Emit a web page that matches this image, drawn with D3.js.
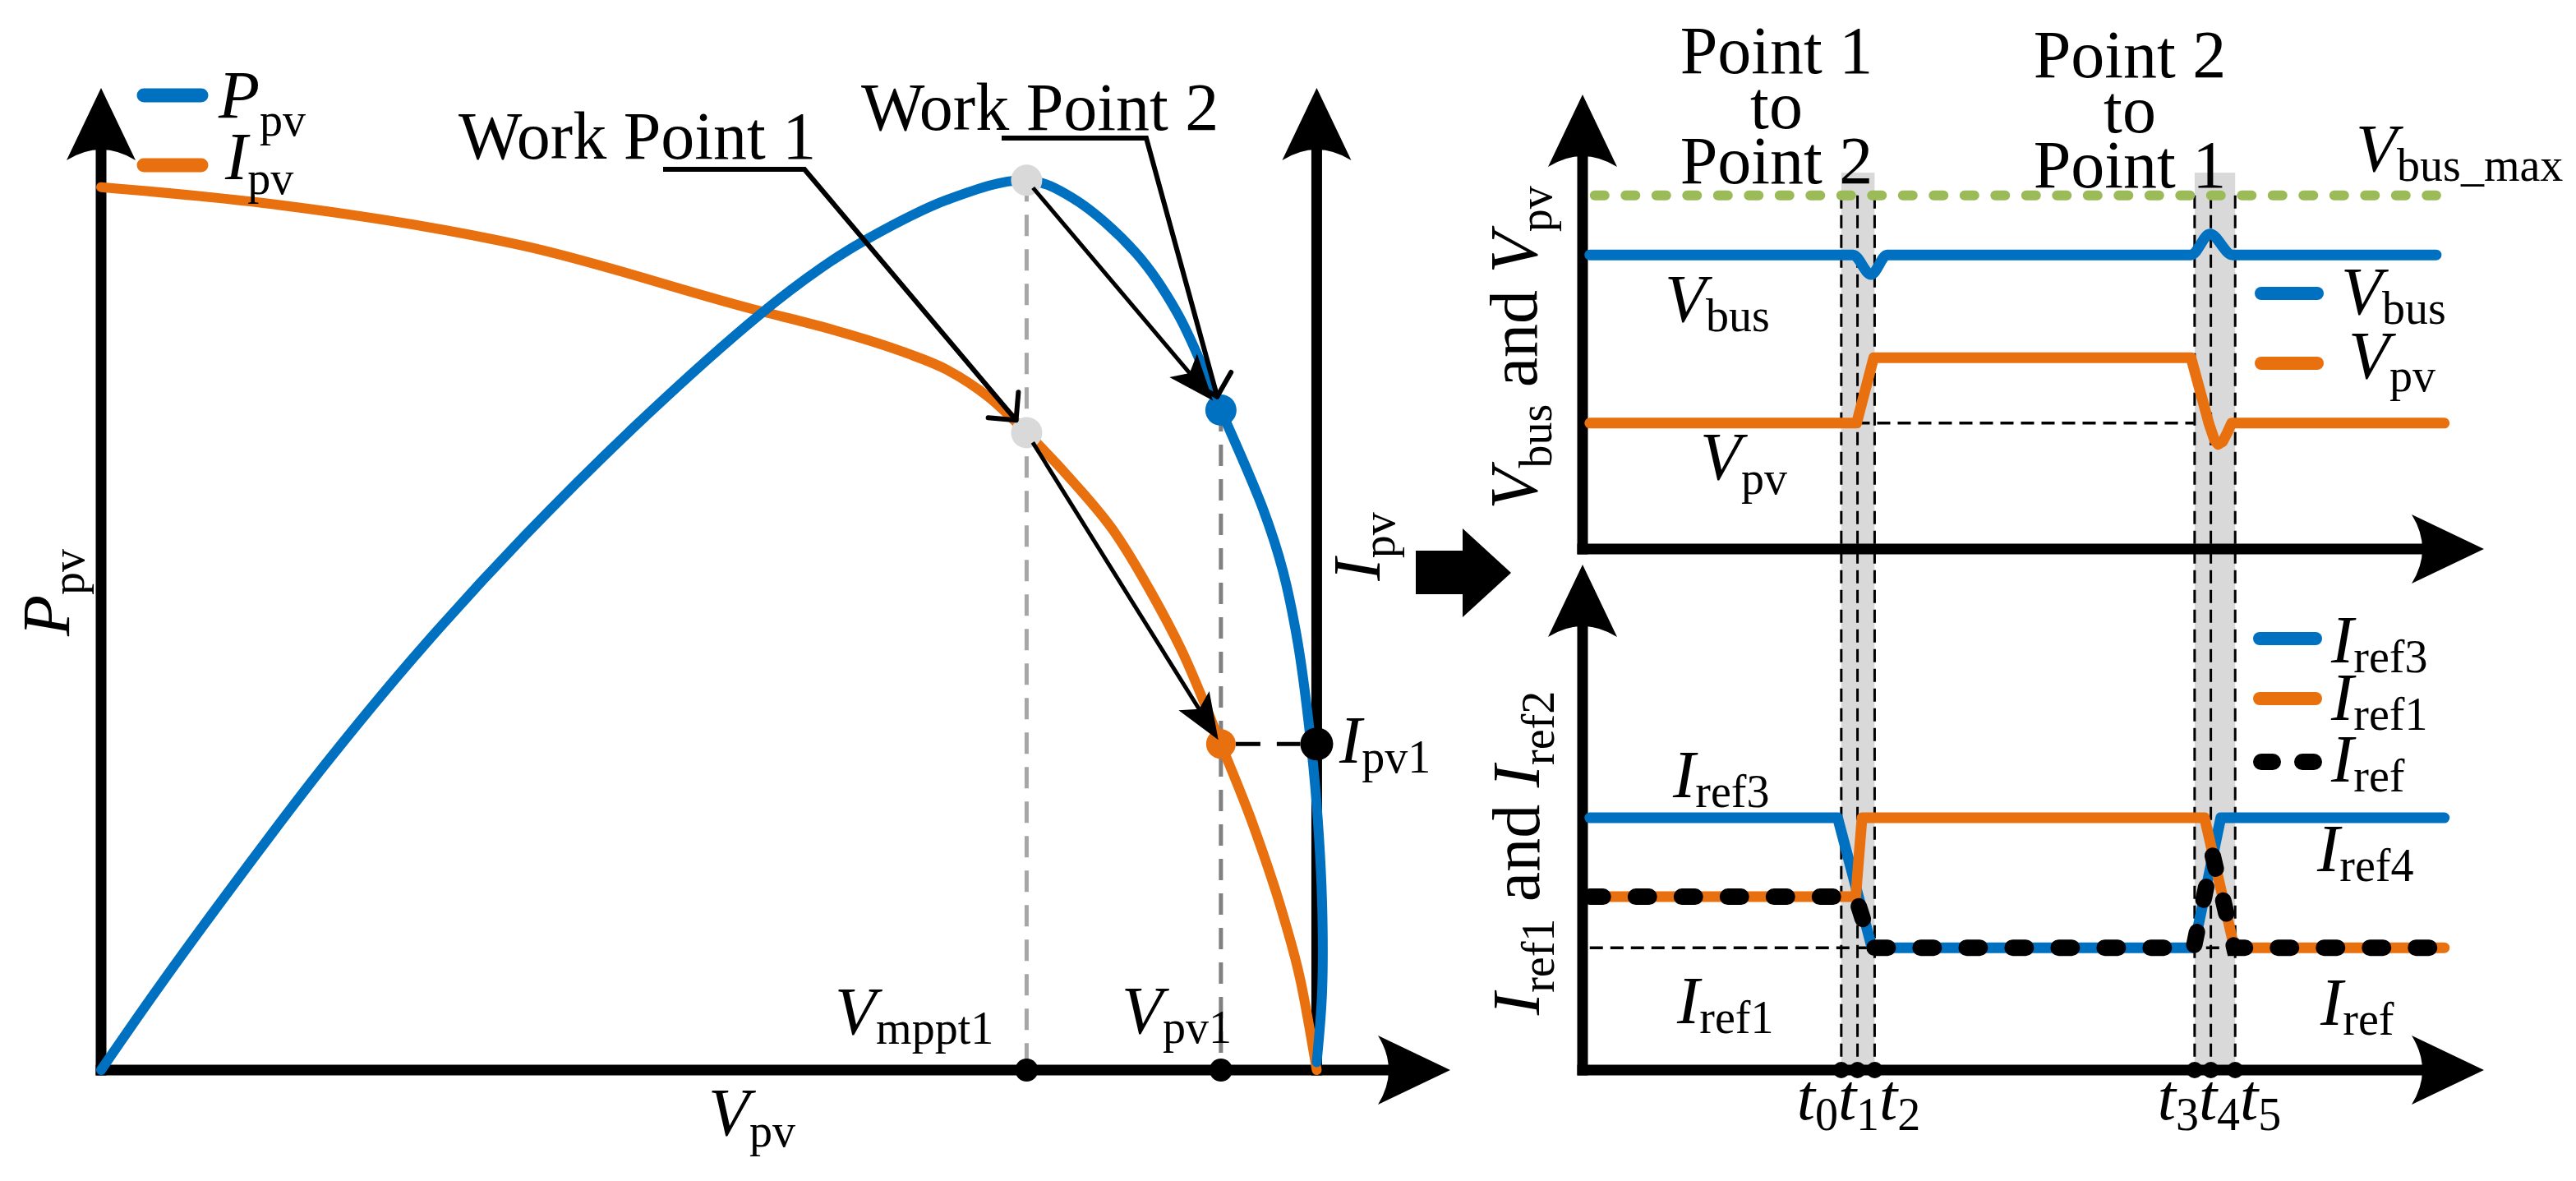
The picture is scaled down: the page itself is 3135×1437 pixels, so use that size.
<!DOCTYPE html>
<html>
<head>
<meta charset="utf-8">
<script src="https://cdn.jsdelivr.net/npm/d3@7"></script>
<style>body { margin: 0; background: #fff; }</style>
</head>
<body>
<div id="chart"></div>
<script>
// ---- data (left: V in % of axis, P / I in % of axis height) ----
const pvPowerCurve = [[0, 0], [4.1, 8.1], [10.0, 19.2], [16.6, 31.1], [23.6, 42.7], [31.4, 54.4],
  [40.3, 66.5], [48.8, 76.9], [53.4, 81.7], [56.5, 84.4], [62.7, 88.6], [68.6, 90.6], [72.0, 88.8],
  [76.7, 83.2], [79.8, 77.0], [83.0, 67.2], [86.1, 57.2], [87.6, 50.8], [88.7, 43.5], [89.5, 35.4], [90.1, 27.0],
  [90.5, 17.0], [90.5, 8.0], [90.1, 0.8]];
const pvCurrentCurve = [[0, 89.9], [11.9, 88.3], [31.4, 83.9], [48.8, 77.3], [53.4, 75.7], [59.5, 73.1],
  [62.7, 71.3], [65.8, 68.5], [68.6, 64.9], [72.1, 59.8], [75.2, 54.6], [77.8, 48.7], [80.2, 42.4],
  [83.0, 33.2], [85.4, 24.9], [87.6, 15.8], [88.9, 9.1], [90.1, 0]];
const vMppt1 = 68.6, vPv1 = 83.0, vOc = 90.1;
const pMppt1 = 90.6, iMppt1 = 64.9, pPv1 = 67.2, iPv1 = 33.2;

// ---- data (right: time in % of axis, values in % of axis height) ----
const tMarks = [28.7, 30.5, 32.4, 67.9, 69.7, 72.4];
const tNames = ['0', '1', '2', '3', '4', '5'];
const tStart = 0.8, tEnd = 95.6;
const vBusMax = 77.8;
const vBusSeries = [[0.8, 64.7], [30.0, 64.7], [32.0, 60.4], [33.8, 64.7], [67.5, 64.7], [69.6, 69.3], [72.1, 64.7], [94.7, 64.7]];
const vPvSeries = [[0.8, 27.7], [30.4, 27.7], [32.3, 42.1], [67.5, 42.1], [69.5, 27.5], [70.1, 24.0], [70.5, 23.0],
  [71.0, 23.6], [71.5, 25.5], [72.0, 27.7], [95.6, 27.7]];
const iRef3Series = [[0.8, 49.9], [28.3, 49.9], [32.1, 24.2], [67.8, 24.2], [70.8, 49.9], [95.6, 49.9]];
const iRef1Series = [[0.8, 34.3], [30.3, 34.3], [31.0, 49.9], [69.0, 49.9], [72.3, 24.2], [95.6, 24.2]];
const iRefSeries = [[0.8, 34.3], [30.3, 34.3], [32.1, 24.2], [67.8, 24.2], [69.9, 42.5], [72.3, 24.2], [95.6, 24.2]];
const bandTop = 82.8;

const blue = '#0070c0', orange = '#e8700e', green = '#9bbb59', grey = '#d9d9d9';
const FONT = "'Liberation Serif'";
const FS = 82, SUB = 56;

const svg = d3.select('#chart').append('svg').attr('width', 3135).attr('height', 1437);

const xL = d3.scaleLinear().domain([0, 100]).range([123, 1765]);
const yL = d3.scaleLinear().domain([0, 100]).range([1302, 107]);
const xR = d3.scaleLinear().domain([0, 100]).range([1926, 3023]);
const yTop = d3.scaleLinear().domain([0, 100]).range([668, 115]);
const yBot = d3.scaleLinear().domain([0, 100]).range([1302, 687]);

// text with italic symbols and subscripts
function mathText(parent, x, y, parts, anchor, size, subSize, shift) {
  const t = parent.append('text').attr('x', x).attr('y', y).style('font-family', FONT)
    .attr('font-size', size || FS).attr('text-anchor', anchor || 'start').attr('fill', '#000');
  let inSub = false;
  const dy = shift || 18;
  parts.forEach(([s, kind]) => {
    const ts = t.append('tspan').text(s);
    if (kind === 'sub') {
      ts.attr('font-size', subSize || SUB).attr('dy', inSub ? 0 : dy);
      inSub = true;
    } else {
      ts.attr('font-size', size || FS);
      if (inSub) ts.attr('dy', -dy);
      inSub = false;
      if (kind === 'i') ts.style('font-style', 'italic');
    }
  });
  return t;
}
function rotText(x, y, parts) {
  const g = svg.append('g').attr('transform', `translate(${x},${y}) rotate(-90)`);
  mathText(g, 0, 0, parts, 'middle');
}

function axisHead(x, y, angle) {
  svg.append('path').attr('d', 'M0,0 L-88,-42 Q-62,0 -88,42 Z')
    .attr('transform', `translate(${x},${y}) rotate(${angle})`).attr('fill', '#000');
}
function axisLine(x1, y1, x2, y2) {
  svg.append('line').attr('x1', x1).attr('y1', y1).attr('x2', x2).attr('y2', y2)
    .attr('stroke', '#000').attr('stroke-width', 13).attr('stroke-linecap', 'square');
}
function vAxis(x, yb, yt) { axisLine(x, yb, x, yt + 60); axisHead(x, yt, -90); }
function hAxis(y, xl, xr) { axisLine(xl, y, xr - 60, y); axisHead(xr, y, 0); }

// ---------------- left panel ----------------
vAxis(xL(0), yL(0), yL(100));
hAxis(yL(0), xL(0), xL(100));
vAxis(xL(vOc), yL(0), yL(100));

// dashed guides
svg.append('line').attr('x1', xL(vMppt1)).attr('x2', xL(vMppt1)).attr('y1', yL(pMppt1)).attr('y2', yL(0))
  .attr('stroke', '#a6a6a6').attr('stroke-width', 5).attr('stroke-dasharray', '26,16');
svg.append('line').attr('x1', xL(vPv1)).attr('x2', xL(vPv1)).attr('y1', yL(pPv1)).attr('y2', yL(0))
  .attr('stroke', '#808080').attr('stroke-width', 5).attr('stroke-dasharray', '26,16');
svg.append('line').attr('x1', xL(vPv1) + 18).attr('x2', xL(vOc) - 20).attr('y1', yL(iPv1)).attr('y2', yL(iPv1))
  .attr('stroke', '#000').attr('stroke-width', 5).attr('stroke-dasharray', '30,20');

const lineL = d3.line().x(d => xL(d[0])).y(d => yL(d[1]));
svg.append('path').attr('d', lineL.curve(d3.curveMonotoneX)(pvCurrentCurve)).attr('fill', 'none')
  .attr('stroke', orange).attr('stroke-width', 12).attr('stroke-linecap', 'round');
svg.append('path').attr('d', lineL.curve(d3.curveCatmullRom.alpha(0.5))(pvPowerCurve)).attr('fill', 'none')
  .attr('stroke', blue).attr('stroke-width', 12).attr('stroke-linecap', 'round');

// points
const leftDots = [
  { v: vMppt1, y: pMppt1, r: 19, c: grey }, { v: vMppt1, y: iMppt1, r: 19, c: grey },
  { v: vPv1, y: pPv1, r: 19, c: blue }, { v: vPv1, y: iPv1, r: 18, c: orange },
  { v: vOc, y: iPv1, r: 20, c: '#000' }, { v: vMppt1, y: 0, r: 14, c: '#000' }, { v: vPv1, y: 0, r: 14, c: '#000' }];
svg.selectAll('.ldot').data(leftDots).enter().append('circle').attr('class', 'ldot')
  .attr('cx', d => xL(d.v)).attr('cy', d => yL(d.y)).attr('r', d => d.r).attr('fill', d => d.c);

// arrows
function unit(a, b) { const dx = b[0] - a[0], dy = b[1] - a[1], l = Math.hypot(dx, dy); return [dx / l, dy / l]; }
function solidArrow(from, to, s0, s1, w) {
  const u = unit(from, to);
  const a = [from[0] + u[0] * s0, from[1] + u[1] * s0], b = [to[0] - u[0] * s1, to[1] - u[1] * s1];
  svg.append('line').attr('x1', a[0]).attr('y1', a[1]).attr('x2', b[0] - u[0] * 30).attr('y2', b[1] - u[1] * 30)
    .attr('stroke', '#000').attr('stroke-width', w);
  const ang = Math.atan2(u[1], u[0]) * 180 / Math.PI;
  svg.append('path').attr('d', 'M0,0 L-56,-22 L-44,0 L-56,22 Z')
    .attr('transform', `translate(${b[0]},${b[1]}) rotate(${ang})`).attr('fill', '#000');
}
function leader(ux1, ux2, uy, target, gap) {
  const start = [ux2, uy];
  const u = unit(start, target);
  const tip = [target[0] - u[0] * gap, target[1] - u[1] * gap];
  svg.append('path').attr('d', `M${ux1},${uy} L${ux2},${uy} L${tip[0]},${tip[1]}`)
    .attr('fill', 'none').attr('stroke', '#000').attr('stroke-width', 6).attr('stroke-linejoin', 'miter');
  const ang = Math.atan2(u[1], u[0]);
  [Math.PI * 0.75, -Math.PI * 0.75].forEach(da => {
    svg.append('line').attr('x1', tip[0]).attr('y1', tip[1])
      .attr('x2', tip[0] + 34 * Math.cos(ang + da)).attr('y2', tip[1] + 34 * Math.sin(ang + da))
      .attr('stroke', '#000').attr('stroke-width', 6).attr('stroke-linecap', 'round');
  });
}
const pMpp = [xL(vMppt1), yL(pMppt1)], iMpp = [xL(vMppt1), yL(iMppt1)];
const pP1 = [xL(vPv1), yL(pPv1)], iP1 = [xL(vPv1), yL(iPv1)];
solidArrow(pMpp, pP1, 12, 15, 5);
solidArrow(iMpp, iP1, 14, 6, 5);
leader(807, 979, 206, iMpp, 20);
leader(1219, 1395, 168, pP1, 17);

// left texts
[[blue, 116], [orange, 201]].forEach(([c, y]) => {
  svg.append('line').attr('x1', 175).attr('x2', 245).attr('y1', y).attr('y2', y)
    .attr('stroke', c).attr('stroke-width', 17).attr('stroke-linecap', 'round');
});
mathText(svg, 266, 143, [['P', 'i'], ['pv', 'sub']], 'start', FS, SUB, 22);
mathText(svg, 274, 218, [['I', 'i'], ['pv', 'sub']], 'start', FS, SUB, 18);
mathText(svg, 558, 193, [['Work Point 1', 'n']]);
mathText(svg, 1048, 158, [['Work Point 2', 'n']]);
mathText(svg, 1016, 1258, [['V', 'i'], ['mppt1', 'sub']], 'start', FS, SUB, 12);
mathText(svg, 1365, 1257, [['V', 'i'], ['pv1', 'sub']], 'start', FS, SUB, 12);
mathText(svg, 1630, 928, [['I', 'i'], ['pv1', 'sub']], 'start', FS, SUB, 12);
mathText(svg, 862, 1381, [['V', 'i'], ['pv', 'sub']], 'start', FS, SUB, 14);
rotText(84, 721, [['P', 'i'], ['pv', 'sub']]);
rotText(1679, 665, [['I', 'i'], ['pv', 'sub']]);

// block arrow between panels
svg.append('path').attr('d', 'M1723,670 L1780,670 L1780,643 L1839,697 L1780,751 L1780,723 L1723,723 Z').attr('fill', '#000');

// ---------------- right panels ----------------
const bands = [[tMarks[0], tMarks[2]], [tMarks[3], tMarks[5]]];
svg.selectAll('.band').data(bands).enter().append('rect').attr('class', 'band')
  .attr('x', d => xR(d[0])).attr('width', d => xR(d[1]) - xR(d[0]))
  .attr('y', yTop(bandTop)).attr('height', yBot(0) - yTop(bandTop)).attr('fill', grey);
svg.selectAll('.tline').data(tMarks).enter().append('line').attr('class', 'tline')
  .attr('x1', d => xR(d)).attr('x2', d => xR(d)).attr('y1', yTop(vBusMax)).attr('y2', yBot(0))
  .attr('stroke', '#000').attr('stroke-width', 3).attr('stroke-dasharray', '16,8');

vAxis(xR(0), yTop(0), yTop(100));
hAxis(yTop(0), xR(0), xR(100));
vAxis(xR(0), yBot(0), yBot(100));
hAxis(yBot(0), xR(0), xR(100));

// reference dashed lines
svg.append('line').attr('x1', xR(30.4)).attr('x2', xR(67.8)).attr('y1', yTop(27.7)).attr('y2', yTop(27.7))
  .attr('stroke', '#000').attr('stroke-width', 3.5).attr('stroke-dasharray', '16,9');
svg.append('line').attr('x1', xR(tStart)).attr('x2', xR(tMarks[5])).attr('y1', yBot(24.2)).attr('y2', yBot(24.2))
  .attr('stroke', '#000').attr('stroke-width', 3.5).attr('stroke-dasharray', '16,9');

// upper panel series
svg.append('line').attr('x1', xR(tStart) + 6).attr('x2', xR(94.7)).attr('y1', yTop(vBusMax)).attr('y2', yTop(vBusMax))
  .attr('stroke', green).attr('stroke-width', 12).attr('stroke-linecap', 'round').attr('stroke-dasharray', '12,25.5');
const lineT = d3.line().x(d => xR(d[0])).y(d => yTop(d[1]));
svg.append('path').attr('d', lineT.curve(d3.curveMonotoneX)(vBusSeries)).attr('fill', 'none')
  .attr('stroke', blue).attr('stroke-width', 13).attr('stroke-linecap', 'round');
svg.append('path').attr('d', lineT.curve(d3.curveLinear)(vPvSeries)).attr('fill', 'none')
  .attr('stroke', orange).attr('stroke-width', 13).attr('stroke-linecap', 'round').attr('stroke-linejoin', 'round');

// lower panel series
const lineB = d3.line().x(d => xR(d[0])).y(d => yBot(d[1]));
svg.append('path').attr('d', lineB(iRef3Series)).attr('fill', 'none')
  .attr('stroke', blue).attr('stroke-width', 13).attr('stroke-linecap', 'round').attr('stroke-linejoin', 'round');
svg.append('path').attr('d', lineB(iRef1Series)).attr('fill', 'none')
  .attr('stroke', orange).attr('stroke-width', 13).attr('stroke-linecap', 'round').attr('stroke-linejoin', 'round');
svg.append('path').attr('d', lineB(iRefSeries)).attr('fill', 'none')
  .attr('stroke', '#000').attr('stroke-width', 20).attr('stroke-linecap', 'round').attr('stroke-dasharray', '16,40');

svg.selectAll('.tdot').data(tMarks).enter().append('circle').attr('class', 'tdot')
  .attr('cx', d => xR(d)).attr('cy', yBot(0)).attr('r', 10).attr('fill', '#000');

// right texts
[[2162, 89, 'Point 1'], [2162, 156, 'to'], [2162, 223, 'Point 2'],
 [2592, 94, 'Point 2'], [2592, 161, 'to'], [2592, 228, 'Point 1']].forEach(([x, y, s]) => {
  mathText(svg, x, y, [[s, 'n']], 'middle');
});
mathText(svg, 2867, 208, [['V', 'i'], ['bus_max', 'sub']], 'start', FS, SUB, 12);
mathText(svg, 2026, 391, [['V', 'i'], ['bus', 'sub']], 'start', FS, SUB, 12);
mathText(svg, 2069, 583, [['V', 'i'], ['pv', 'sub']], 'start', FS, SUB, 18);
rotText(1870, 423, [['V', 'i'], ['bus', 'sub'], [' and ', 'n'], ['V', 'i'], ['pv', 'sub']]);
rotText(1873, 1038, [['I', 'i'], ['ref1', 'sub'], [' and ', 'n'], ['I', 'i'], ['ref2', 'sub']]);

// legends
[[blue, 357], [orange, 442]].forEach(([c, y]) => {
  svg.append('line').attr('x1', 2752).attr('x2', 2820).attr('y1', y).attr('y2', y)
    .attr('stroke', c).attr('stroke-width', 16).attr('stroke-linecap', 'round');
});
mathText(svg, 2849, 382, [['V', 'i'], ['bus', 'sub']], 'start', FS, SUB, 12);
mathText(svg, 2858, 460, [['V', 'i'], ['pv', 'sub']], 'start', FS, SUB, 16);
[[blue, 777], [orange, 850]].forEach(([c, y]) => {
  svg.append('line').attr('x1', 2750).attr('x2', 2818).attr('y1', y).attr('y2', y)
    .attr('stroke', c).attr('stroke-width', 16).attr('stroke-linecap', 'round');
});
svg.append('line').attr('x1', 2752).attr('x2', 2826).attr('y1', 927).attr('y2', 927)
  .attr('stroke', '#000').attr('stroke-width', 20).attr('stroke-linecap', 'round').attr('stroke-dasharray', '14,36');
mathText(svg, 2837, 806, [['I', 'i'], ['ref3', 'sub']], 'start', FS, SUB, 12);
mathText(svg, 2837, 876, [['I', 'i'], ['ref1', 'sub']], 'start', FS, SUB, 12);
mathText(svg, 2837, 951, [['I', 'i'], ['ref', 'sub']], 'start', FS, SUB, 12);
mathText(svg, 2036, 970, [['I', 'i'], ['ref3', 'sub']], 'start', FS, SUB, 12);
mathText(svg, 2041, 1245, [['I', 'i'], ['ref1', 'sub']], 'start', FS, SUB, 12);
mathText(svg, 2820, 1060, [['I', 'i'], ['ref4', 'sub']], 'start', FS, SUB, 12);
mathText(svg, 2824, 1247, [['I', 'i'], ['ref', 'sub']], 'start', FS, SUB, 12);

// time labels
[[0, 2262], [3, 2701]].forEach(([k, x]) => {
  const parts = [];
  for (let i = k; i < k + 3; i++) { parts.push(['t', 'i']); parts.push([tNames[i], 'sub']); }
  mathText(svg, x, 1362, parts, 'middle', 80, 56, 13);
});
</script>
</body>
</html>
